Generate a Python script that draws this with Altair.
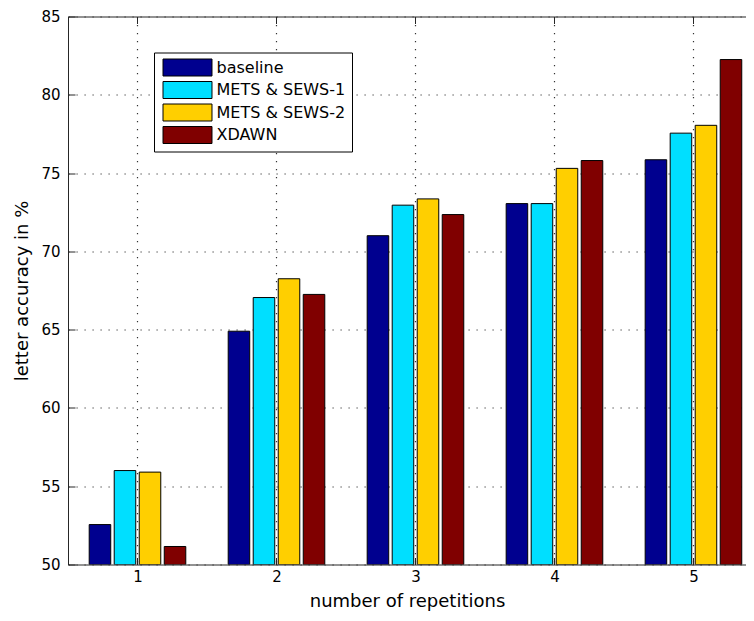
import altair as alt
import pandas as pd

# ---- data ----
repetitions = [1, 2, 3, 4, 5]
series_names = ["baseline", "METS & SEWS-1", "METS & SEWS-2", "XDAWN"]
baseline = [52.55, 64.9, 71.0, 73.05, 75.85]
mets_sews_1 = [56.0, 67.05, 72.95, 73.05, 77.55]
mets_sews_2 = [55.9, 68.25, 73.35, 75.3, 78.05]
xdawn = [51.15, 67.25, 72.35, 75.8, 82.25]
x_ticks = [1, 2, 3, 4, 5]
y_ticks = [50, 55, 60, 65, 70, 75, 80, 85]
colors = ["#00008F", "#00DFFF", "#FFCF00", "#800000"]

rows = []
for idx, (name, vals) in enumerate(zip(series_names, [baseline, mets_sews_1, mets_sews_2, xdawn])):
    for r, v in zip(repetitions, vals):
        rows.append({"rep": r, "series": name, "idx": idx, "value": v})
df = pd.DataFrame(rows)

FONT = "DejaVu Sans"
AX = "#262626"

xscale = alt.Scale(domain=[0.5, 5.378], nice=False, zero=False)
yscale = alt.Scale(domain=[50, 85], nice=False, zero=False)

base = alt.Chart(df).transform_calculate(
    xa="datum.rep + (datum.idx - 1.5) * 0.18 - 0.0775",
    xb="datum.rep + (datum.idx - 1.5) * 0.18 + 0.0775",
)

grid_style = dict(grid=True, gridDash=[1.2, 6.8], gridColor="#000000", gridOpacity=0.8, gridWidth=1.2)

main_x = alt.Axis(
    orient="bottom", values=x_ticks, format="d", title="number of repetitions",
    ticks=False, domain=True, domainColor=AX, domainWidth=1,
    labelFont=FONT, labelFontSize=15, labelColor="#000", labelPadding=5,
    titleFont=FONT, titleFontSize=18, titleFontWeight="normal", titleColor="#000", titlePadding=8,
    **grid_style,
)
main_y = alt.Axis(
    orient="left", values=y_ticks, format="d", title="letter accuracy in %",
    ticks=False, domain=True, domainColor=AX, domainWidth=1,
    labelFont=FONT, labelFontSize=15, labelColor="#000", labelPadding=8,
    titleFont=FONT, titleFontSize=18, titleFontWeight="normal", titleColor="#000", titlePadding=9,
    **grid_style,
)

legend = alt.Legend(
    title=None, orient="none", legendX=86, legendY=36,
    strokeColor="#000", fillColor="#fff", padding=6,
    symbolType="M-2.882,-1H2.882V1H-2.882Z", symbolSize=289, symbolOffset=18.5,
    symbolStrokeColor="#000", symbolStrokeWidth=1, symbolOpacity=1,
    labelFont=FONT, labelFontSize=16, labelColor="#000", labelOffset=20,
    rowPadding=0.5,
)

bars = base.mark_bar(stroke="#000", strokeWidth=1, clip=True).encode(
    x=alt.X("xa:Q", scale=xscale, axis=main_x),
    x2="xb:Q",
    y=alt.Y("value:Q", scale=yscale, axis=main_y),
    y2=alt.datum(y_ticks[0]),
    color=alt.Color("series:N", scale=alt.Scale(domain=series_names, range=colors), legend=legend),
)


def ghost(xaxis, yaxis):
    return base.mark_bar(opacity=0).encode(
        x=alt.X("xa:Q", scale=xscale, axis=xaxis),
        x2="xb:Q",
        y=alt.Y("value:Q", scale=yscale, axis=yaxis),
        y2=alt.datum(y_ticks[0]),
    )


top_border = ghost(
    alt.Axis(orient="top", values=x_ticks, labels=False, ticks=False, grid=False,
             domain=True, domainColor=AX, domainWidth=1, title=None),
    None,
)
ticks_top_left = ghost(
    alt.Axis(orient="top", values=x_ticks, offset=-7, tickSize=7, tickColor=AX, tickWidth=1,
             labels=False, grid=False, domain=False, title=None),
    alt.Axis(orient="left", values=y_ticks, offset=-7, tickSize=7, tickColor=AX, tickWidth=1,
             labels=False, grid=False, domain=False, title=None),
)
ticks_bottom = ghost(
    alt.Axis(orient="bottom", values=x_ticks, offset=-7, tickSize=7, tickColor=AX, tickWidth=1,
             labels=False, grid=False, domain=False, title=None),
    None,
)

chart = (
    alt.layer(bars, top_border, ticks_top_left, ticks_bottom)
    .resolve_axis(x="independent", y="independent")
    .properties(
        width=678, height=548,
        padding={"left": 60, "top": 8.5, "right": 0, "bottom": 47.5},
        autosize=alt.AutoSizeParams(type="none"),
        background="#ffffff",
    )
    .configure_view(stroke="transparent")
)

chart.save("out.html", embed_options={"renderer": "svg", "actions": False})
